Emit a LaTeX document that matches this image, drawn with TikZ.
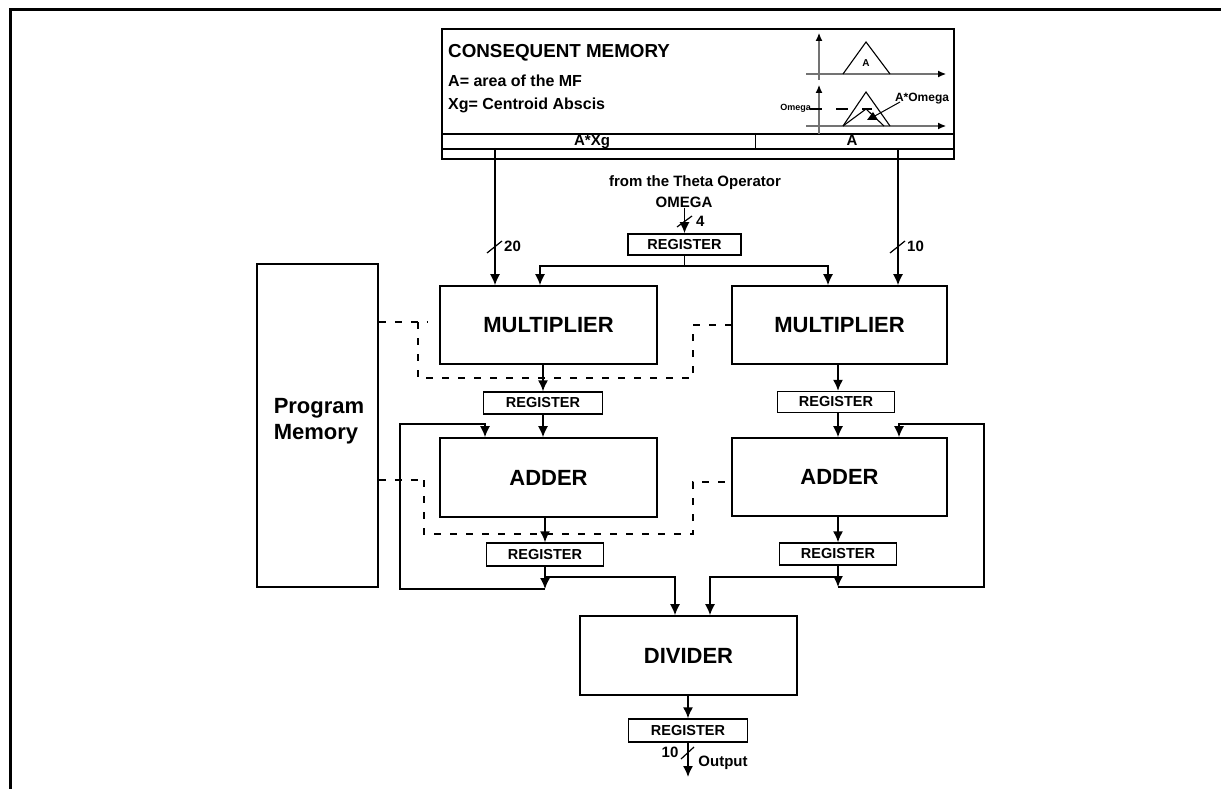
\documentclass[tikz,border=0pt]{standalone}
\usepackage{fontspec}
\setmainfont{Liberation Sans}
\usetikzlibrary{arrows.meta}
\begin{document}
\tikzset{
  blk/.style={draw, line width=1.6pt, inner sep=0pt, font=\bfseries\fontsize{22}{24}\selectfont},
  regbox/.style={draw, line width=1.4pt, inner sep=0pt, minimum height=22pt, font=\bfseries\fontsize{14.5}{16}\selectfont},
  lbl/.style={inner sep=0pt, font=\bfseries\fontsize{15}{17}\selectfont},
  arr/.style={line width=1.5pt, -{Latex[length=11pt,width=10pt]}},
  wire/.style={line width=1.5pt},
  thinw/.style={line width=1.1pt},
  dsh/.style={line width=1.4pt, dash pattern=on 7pt off 9pt},
  axis/.style={draw=black!55, line width=1.1pt, -{Latex[length=8pt,width=7pt,color=black]}},
  slash/.style={line width=1.2pt},
}
\begin{tikzpicture}[x=1pt,y=-1pt]
\useasboundingbox (0,0) rectangle (1221,789);
% outer frame
\draw[line width=3pt] (10,789) -- (10,10) -- (1221,10);

% consequent memory
\node[draw, line width=1.6pt, anchor=north west, minimum width=512pt, minimum height=130pt, inner sep=0pt] (cm) at (441,28) {};
\draw[thinw] (cm.west |- 0,134) -- (cm.east |- 0,134);
\draw[thinw] (cm.west |- 0,149) -- (cm.east |- 0,149);
\draw[line width=0.9pt] (755,133) -- (755,149);
\node[lbl, anchor=base west, font=\bfseries\fontsize{18.8}{20}\selectfont] (cmt) at (448,58) {CONSEQUENT MEMORY};
\node[lbl, anchor=base west, font=\bfseries\fontsize{16}{18}\selectfont] (cma) at (448,87) {A= area of the MF};
\node[lbl, anchor=base west, font=\bfseries\fontsize{16}{18}\selectfont] (cmx) at (448,110) {Xg= Centroid Abscis};
\node[lbl, anchor=base] (axg) at (592,146) {A*Xg};
\node[lbl, anchor=base] (aa) at (852,146) {A};
% graphs
\draw[axis] (819,80) -- (819,33);
\draw[axis] (806,74) -- (946,74);
\draw[line width=1.1pt] (843,74) -- (866,42) -- (890,74);
\node[inner sep=0pt, font=\bfseries\fontsize{10}{12}\selectfont] (ta) at (866,63) {A};
\draw[axis] (819,134) -- (819,85);
\draw[axis] (806,126) -- (946,126);
\draw[line width=1.1pt] (843,126) -- (866,92) -- (890,126);
\draw[line width=1.1pt] (843,126) -- (866,109) -- (884,126);
\fill (867,120) -- (878,120) -- (873,112) -- cycle;
\draw[line width=1pt] (873,117) -- (900,102);
\draw[line width=1.1pt, dash pattern=on 12pt off 14pt] (810,109) -- (872,109);
\node[inner sep=0pt, anchor=east, font=\bfseries\fontsize{9}{11}\selectfont] (om) at (811,108) {Omega};
\node[inner sep=0pt, font=\bfseries\fontsize{12}{14}\selectfont] (aom) at (922,99) {A*Omega};

% theta input
\node[lbl] (theta) at (695,183) {from the Theta Operator};
\node[lbl] (omg) at (684,202) {OMEGA};
\node[regbox, line width=1.6pt, minimum width=113pt, minimum height=21pt] (r0) at (684.5,244.5) {REGISTER};
\draw[arr] (omg.south -| r0.north) -- (r0.north);
\draw[slash] (677,227) -- (692,216);
\node[lbl, anchor=west] (n4) at (696,221) {4};

% blocks
\node[blk, minimum width=217pt, minimum height=78pt] (mulL) at (548.5,325) {MULTIPLIER};
\node[blk, minimum width=215pt, minimum height=78pt] (mulR) at (839.5,325) {MULTIPLIER};
\node[blk, minimum width=217pt, minimum height=79pt] (addL) at (548.5,477.5) {ADDER};
\node[blk, minimum width=215pt, minimum height=78pt] (addR) at (839.5,477) {ADDER};
\node[blk, minimum width=217pt, minimum height=79pt] (div) at (688.5,655.5) {DIVIDER};
\node[blk, minimum width=121pt, minimum height=323pt] (pm) at (317.5,425.5) {};
\node[lbl, align=left, font=\bfseries\fontsize{22}{26}\selectfont] (pmt) at (319,421) {Program\\Memory};

% registers
\node[regbox, minimum width=119pt] (r1L) at (543,403) {REGISTER};
\node[regbox, minimum width=117pt, minimum height=21pt] (r1R) at (836,402) {REGISTER};
\node[regbox, minimum width=117pt, minimum height=23pt] (r2L) at (545,554.5) {REGISTER};
\node[regbox, minimum width=117pt] (r2R) at (838,554) {REGISTER};
\node[regbox, minimum width=119pt, minimum height=23pt] (rOut) at (688,730.5) {REGISTER};

% memory outputs
\coordinate (cmL) at (495,149);
\coordinate (cmR) at (898,149);
\draw[arr] (cmL) -- (cmL |- mulL.north);
\draw[arr] (cmR) -- (cmR |- mulR.north);
\draw[slash] (487,253) -- (502,241);
\node[lbl, anchor=west] (n20) at (504,246) {20};
\draw[slash] (890,253) -- (905,241);
\node[lbl, anchor=west] (n10) at (907,246) {10};

% omega bus
\coordinate (busL) at (540,266);
\coordinate (busR) at (828,266);
\draw[thinw] (r0.south) -- (r0.south |- busL);
\draw[arr] (r0.south |- busL) -- (busL) -- (busL |- mulL.north);
\draw[arr] (r0.south |- busR) -- (busR) -- (busR |- mulR.north);

% left chain
\draw[arr] (mulL.south -| r1L.north) -- (r1L.north);
\draw[arr] (r1L.south) -- (r1L.south |- addL.north);
\draw[arr] (addL.south -| r2L.north) -- (r2L.north);
\coordinate (fbL) at (545,589);
\draw[arr] (r2L.south) -- (fbL);
\draw[arr] (fbL) -| (400,424) -| (addL.north -| 485,0);
\draw[arr] (545,577) -| (div.north -| 675,0);

% right chain
\draw[arr] (mulR.south -| 838,0) -- (r1R.north -| 838,0);
\draw[arr] (r1R.south -| 838,0) -- (addR.north -| 838,0);
\draw[arr] (addR.south -| r2R.north) -- (r2R.north);
\coordinate (fbR) at (838,587);
\draw[arr] (r2R.south) -- (fbR);
\draw[arr] (fbR) -| (984,424) -| (addR.north -| 899,0);
\draw[arr] (838,577) -| (div.north -| 710,0);

% divider output
\draw[arr] (div.south -| rOut.north) -- (rOut.north);
\coordinate (outEnd) at (688,777);
\draw[arr] (rOut.south) -- (outEnd);
\draw[slash] (681,759) -- (694,747);
\node[lbl] (n10b) at (670,752) {10};
\node[lbl] (outp) at (723,763) {Output};

% dashed control lines
\draw[dsh] (pm.east |- 0,322) -- (428,322);
\draw[dsh] (418,322) -- (418,378) -- (693,378) -- (693,325) -- (mulR.west |- 0,325);
\draw[dsh] (pm.east |- 0,480) -- (424,480);
\draw[dsh] (424,480) -- (424,534) -- (693,534) -- (693,482) -- (addR.west |- 0,482);
\end{tikzpicture}
\end{document}
